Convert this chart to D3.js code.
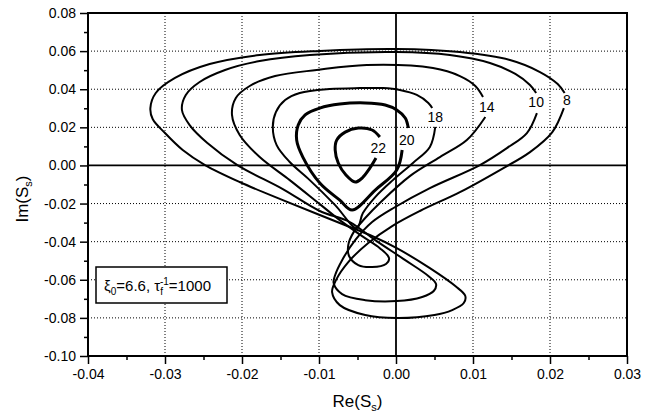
<!DOCTYPE html>
<html><head><meta charset="utf-8">
<script src="https://cdn.jsdelivr.net/npm/d3@7"></script>
<style>
body{margin:0;background:#fff}
text{font-family:"Liberation Sans",Arial,Helvetica,sans-serif;fill:#000}
</style>
</head><body>
<svg id="chart" width="655" height="419"></svg>
<script>
// ---------- data ----------
const xMajorTicks = [-0.04,-0.03,-0.02,-0.01,0.00,0.01,0.02,0.03];
const xMinorTicks = [-0.035,-0.025,-0.015,-0.005,0.005,0.015,0.025];
const yMajorTicks = [0.08,0.06,0.04,0.02,0.00,-0.02,-0.04,-0.06,-0.08,-0.10];
const yMinorTicks = [0.07,0.05,0.03,0.01,-0.01,-0.03,-0.05,-0.07,-0.09];

const curveNames = ["8","10","14","18","20","22"];
const labelAnchors = [[0.0222,0.0343],[0.0182,0.0333],[0.0118,0.0307],[0.0051,0.0254],[0.0014,0.0133],[-0.0023,0.0091]];

const curve8 = [[0.0218,0.0301],[0.0203,0.0175],[0.0174,0.0070],[0.0135,-0.0024],[0.0083,-0.0140],[0.0031,-0.0239],
 [-0.0005,-0.0318],[-0.0036,-0.0407],[-0.0062,-0.0507],[-0.0078,-0.0602],[-0.0083,-0.0665],[-0.0073,-0.0733],
 [-0.0040,-0.0785],[0.0001,-0.0801],[0.0050,-0.0785],[0.0073,-0.0759],[0.0088,-0.0722],[0.0090,-0.0685],[0.0077,-0.0633],
 [0.0044,-0.0539],[0.0001,-0.0434],[-0.0034,-0.0365],[-0.0060,-0.0323],[-0.0099,-0.0260],[-0.0147,-0.0182],
 [-0.0203,-0.0087],[-0.0248,0.0002],[-0.0277,0.0081],[-0.0300,0.0170],[-0.0316,0.0244],[-0.0319,0.0301],
 [-0.0312,0.0380],[-0.0287,0.0459],[-0.0242,0.0532],[-0.0177,0.0580],[-0.0099,0.0601],[0.0000,0.0611],
 [0.0083,0.0595],[0.0148,0.0553],[0.0187,0.0490],[0.0210,0.0427],[0.0219,0.0380]];

const curve10 = [[0.0183,0.0275],[0.0170,0.0170],[0.0144,0.0091],[0.0109,0.0002],[0.0044,-0.0119],[-0.0001,-0.0218],
 [-0.0031,-0.0297],[-0.0053,-0.0392],[-0.0070,-0.0497],[-0.0079,-0.0575],[-0.0081,-0.0617],[-0.0070,-0.0675],
 [-0.0040,-0.0707],[0.0001,-0.0712],[0.0034,-0.0690],[0.0049,-0.0659],[0.0052,-0.0622],[0.0042,-0.0580],[0.0012,-0.0497],
 [-0.0027,-0.0392],[-0.0060,-0.0297],[-0.0099,-0.0239],[-0.0147,-0.0124],[-0.0206,0.0002],[-0.0245,0.0118],
 [-0.0268,0.0212],[-0.0278,0.0291],[-0.0273,0.0370],[-0.0255,0.0438],[-0.0222,0.0501],[-0.0177,0.0548],
 [-0.0112,0.0580],[0.0000,0.0595],[0.0070,0.0580],[0.0122,0.0538],[0.0155,0.0480],[0.0174,0.0422],[0.0182,0.0380]];

const curve14 = [[0.0116,0.0254],[0.0092,0.0133],[0.0057,0.0044],[0.0018,-0.0056],[-0.0021,-0.0197],[-0.0040,-0.0276],
 [-0.0055,-0.0350],[-0.0062,-0.0418],[-0.0061,-0.0475],[-0.0049,-0.0523],[-0.0031,-0.0533],[-0.0013,-0.0517],
 [-0.0009,-0.0486],[-0.0021,-0.0434],[-0.0044,-0.0371],[-0.0073,-0.0287],[-0.0099,-0.0203],[-0.0138,-0.0077],
 [-0.0177,0.0044],[-0.0203,0.0160],[-0.0213,0.0265],[-0.0208,0.0354],[-0.0190,0.0417],[-0.0157,0.0469],
 [-0.0103,0.0501],[-0.0038,0.0527],[0.0048,0.0511],[0.0083,0.0469],[0.0103,0.0417],[0.0113,0.0359]];

const curve18 = [[0.0051,0.0202],[0.0044,0.0097],[0.0022,0.0013],[-0.0004,-0.0077],[-0.0027,-0.0166],[-0.0043,-0.0250],
 [-0.0051,-0.0329],[-0.0079,-0.0208],[-0.0112,-0.0077],[-0.0138,0.0018],[-0.0155,0.0107],[-0.0160,0.0202],
 [-0.0156,0.0280],[-0.0144,0.0343],[-0.0125,0.0380],[-0.0086,0.0401],[-0.0047,0.0406],[-0.0017,0.0406],
 [0.0005,0.0396],[0.0027,0.0370],[0.0042,0.0328],[0.0047,0.0301]];

const curve20 = [[0.0008,0.0081],[0.0001,-0.0024],[-0.0027,-0.0129],[-0.0057,-0.0234],[-0.0073,-0.0182],[-0.0099,-0.0092],
 [-0.0121,0.0044],[-0.0129,0.0133],[-0.0127,0.0212],[-0.0118,0.0265],[-0.0099,0.0301],[-0.0073,0.0322],
 [-0.0040,0.0328],[-0.0014,0.0317],[0.0001,0.0291],[0.0012,0.0249],[0.0016,0.0196]];

const curve22 = [[-0.0026,0.0039],[-0.0034,-0.0014],[-0.0044,-0.0066],[-0.0053,-0.0087],[-0.0065,-0.0050],[-0.0075,0.0013],
 [-0.0079,0.0081],[-0.0077,0.0133],[-0.0066,0.0175],[-0.0049,0.0196],[-0.0031,0.0186],[-0.0021,0.0149]];

const curves = [curve8, curve10, curve14, curve18, curve20, curve22];
const thick = [false,false,false,false,true,true];

// ---------- layout ----------
const svg = d3.select("#chart");
const L = 88, R = 627, T = 13, B = 356;
const x = d3.scaleLinear().domain([-0.04, 0.03]).range([L, R]);
const y = d3.scaleLinear().domain([-0.10, 0.08]).range([B, T]);
const fmt = d => d.toFixed(2);

// grid (dotted)
const grid = svg.append("g");
grid.selectAll("line.gx").data(xMajorTicks.filter(d => Math.abs(d) > 1e-9 && d > -0.04 && d < 0.03))
  .join("line").attr("class","gx").attr("x1", d => x(d)).attr("x2", d => x(d)).attr("y1", T).attr("y2", B)
  .attr("stroke", "#000").attr("stroke-width", 1).attr("stroke-dasharray", "1,2");
grid.selectAll("line.gy").data(yMajorTicks.filter(d => Math.abs(d) > 1e-9 && d < 0.08 && d > -0.10))
  .join("line").attr("class","gy").attr("y1", d => y(d)).attr("y2", d => y(d)).attr("x1", L).attr("x2", R)
  .attr("stroke", "#000").attr("stroke-width", 1).attr("stroke-dasharray", "1,2");

// zero lines
svg.append("line").attr("x1", x(0)).attr("x2", x(0)).attr("y1", T).attr("y2", B).attr("stroke", "#000").attr("stroke-width", 1.8);
svg.append("line").attr("x1", L).attr("x2", R).attr("y1", y(0)).attr("y2", y(0)).attr("stroke", "#000").attr("stroke-width", 1.8);

// axes
const xAxis = svg.append("g").attr("transform", `translate(0,${B})`)
  .call(d3.axisBottom(x).tickValues(xMajorTicks).tickFormat(fmt).tickSize(8).tickPadding(5).tickSizeOuter(0));
const xMinor = svg.append("g").attr("transform", `translate(0,${B})`)
  .call(d3.axisBottom(x).tickValues(xMinorTicks).tickFormat("").tickSize(4).tickSizeOuter(0));
const yAxis = svg.append("g").attr("transform", `translate(${L},0)`)
  .call(d3.axisLeft(y).tickValues(yMajorTicks).tickFormat(fmt).tickSize(8).tickPadding(4).tickSizeOuter(0));
const yMinor = svg.append("g").attr("transform", `translate(${L},0)`)
  .call(d3.axisLeft(y).tickValues(yMinorTicks).tickFormat("").tickSize(4).tickSizeOuter(0));
[xAxis, xMinor, yAxis, yMinor].forEach(g => {
  g.select(".domain").remove();
  g.selectAll(".tick line").attr("stroke", "#000").attr("stroke-width", 1.5);
  g.selectAll("text").attr("font-size", 14).attr("font-family", '"Liberation Sans",Arial,sans-serif').attr("fill", "#000");
});

// frame
svg.append("rect").attr("x", L).attr("y", T).attr("width", R - L).attr("height", B - T)
  .attr("fill", "none").attr("stroke", "#000").attr("stroke-width", 2);

// curves
const line = d3.line().x(d => x(d[0])).y(d => y(d[1])).curve(d3.curveCatmullRom.alpha(0.5));
svg.append("g").selectAll("path").data(curves).join("path")
  .attr("d", line).attr("fill", "none").attr("stroke", "#000")
  .attr("stroke-width", (d, i) => thick[i] ? 3 : 2).attr("stroke-linejoin", "round");

// curve labels
svg.append("g").selectAll("text").data(curveNames).join("text")
  .attr("x", (d, i) => x(labelAnchors[i][0])).attr("y", (d, i) => y(labelAnchors[i][1]) + 5)
  .attr("text-anchor", "middle").attr("font-size", 14).text(d => d);

// legend box
const lg = svg.append("g");
lg.append("rect").attr("x", 96).attr("y", 267).attr("width", 131).attr("height", 36)
  .attr("fill", "#fff").attr("stroke", "#000").attr("stroke-width", 1.5);
const lt = lg.append("text").attr("x", 104).attr("y", 291).attr("font-size", 15);
lt.append("tspan").text("ξ");
lt.append("tspan").attr("font-size", 10).attr("dy", 4).text("0");
lt.append("tspan").attr("dy", -4).text("=6.6, τ");
lt.append("tspan").attr("font-size", 10).attr("dy", 4).text("f");
lt.append("tspan").attr("font-size", 10).attr("dy", -10).attr("dx", -3).text("-1");
lt.append("tspan").attr("dy", 6).text("=1000");

// axis titles
const xt = svg.append("text").attr("x", (L + R) / 2).attr("y", 407).attr("text-anchor", "middle").attr("font-size", 17);
xt.append("tspan").text("Re(S");
xt.append("tspan").attr("font-size", 11).attr("dy", 4).text("s");
xt.append("tspan").attr("dy", -4).text(")");

const yt = svg.append("text").attr("transform", "translate(28,199) rotate(-90)").attr("text-anchor", "middle").attr("font-size", 17);
yt.append("tspan").text("Im(S");
yt.append("tspan").attr("font-size", 11).attr("dy", 4).text("s");
yt.append("tspan").attr("dy", -4).text(")");
</script>
</body></html>
